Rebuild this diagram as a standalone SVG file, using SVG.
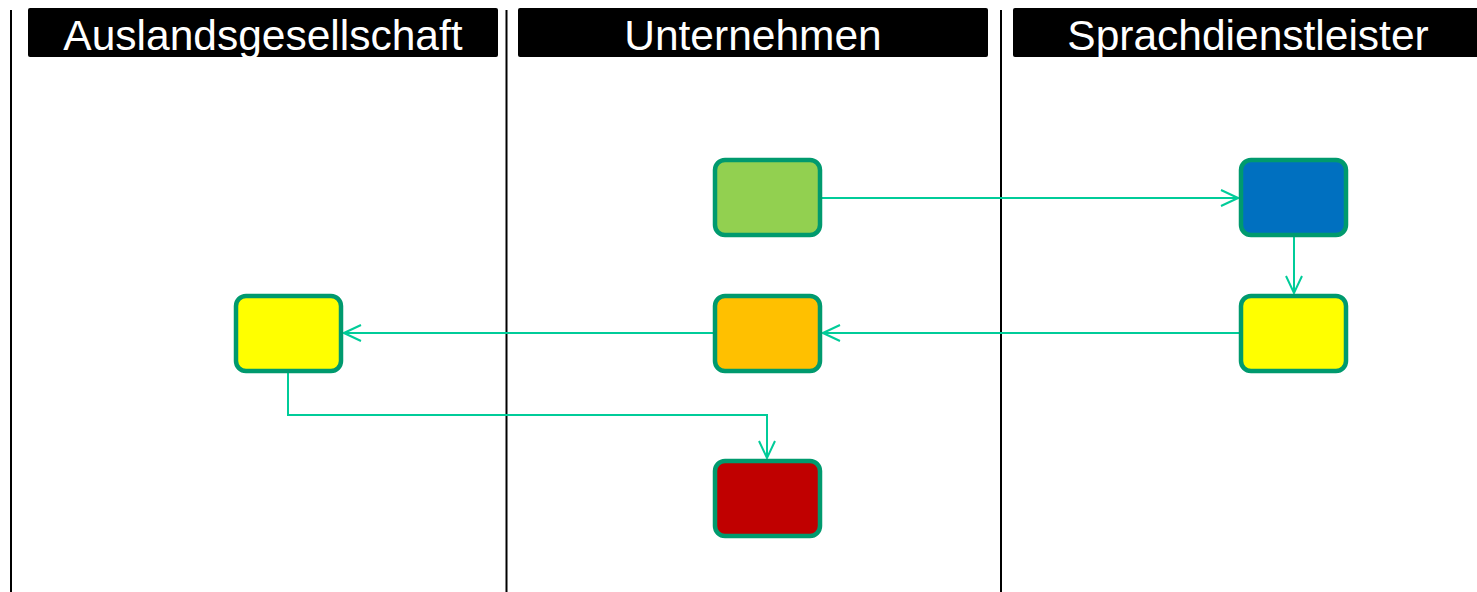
<svg xmlns="http://www.w3.org/2000/svg" width="1477" height="592" viewBox="0 0 1477 592">
<defs>
<style>
.hdr{fill:#000;}
.ht{font-family:"Liberation Sans",Arial,sans-serif;font-size:42.5px;fill:#fff;text-anchor:middle;}
.lane{stroke:#000;stroke-width:2;fill:none;}
.node{stroke:#009A6E;stroke-width:4.5;}
.conn{stroke:#00CC99;stroke-width:2;fill:none;marker-end:url(#arr);}
</style>
<marker id="arr" viewBox="0 0 20 20" refX="19" refY="10" markerWidth="20" markerHeight="20" markerUnits="userSpaceOnUse" orient="auto">
<path d="M2,2 L19,10 L2,18" fill="none" stroke="#00CC99" stroke-width="2"/>
</marker>
</defs>
<rect width="1477" height="592" fill="#fff"/>
<g id="lanes">
<line class="lane" x1="11" y1="10" x2="11" y2="592"/>
<line class="lane" x1="506.5" y1="10" x2="506.5" y2="592"/>
<line class="lane" x1="1001" y1="10" x2="1001" y2="592"/>
</g>
<g id="header-auslandsgesellschaft">
<rect class="hdr" x="28" y="8" width="470" height="49" rx="2"/>
<text class="ht" x="263" y="50">Auslandsgesellschaft</text>
</g>
<g id="header-unternehmen">
<rect class="hdr" x="518" y="8" width="470" height="49" rx="2"/>
<text class="ht" x="753" y="50">Unternehmen</text>
</g>
<g id="header-sprachdienstleister">
<rect class="hdr" x="1013" y="8" width="470" height="49" rx="2"/>
<text class="ht" x="1248" y="50">Sprachdienstleister</text>
</g>
<g id="connectors">
<polyline class="conn" points="821,198 1238,198"/>
<polyline class="conn" points="1294,236 1294,293"/>
<polyline class="conn" points="1240,333 823,333"/>
<polyline class="conn" points="714,333 344,333"/>
<polyline class="conn" points="288,372 288,415 767,415 767,458"/>
</g>
<g id="node-green"><rect class="node" x="715" y="160" width="105" height="75" rx="10" fill="#92D050"/></g>
<g id="node-blue"><rect class="node" x="1241" y="160" width="105" height="75" rx="10" fill="#0070C0"/></g>
<g id="node-yellow-right"><rect class="node" x="1241" y="296" width="105" height="75" rx="10" fill="#FFFF00"/></g>
<g id="node-orange"><rect class="node" x="715" y="296" width="105" height="75" rx="10" fill="#FFC000"/></g>
<g id="node-yellow-left"><rect class="node" x="236" y="296" width="105" height="75" rx="10" fill="#FFFF00"/></g>
<g id="node-red"><rect class="node" x="715" y="461" width="105" height="75" rx="10" fill="#C00000"/></g>
</svg>
